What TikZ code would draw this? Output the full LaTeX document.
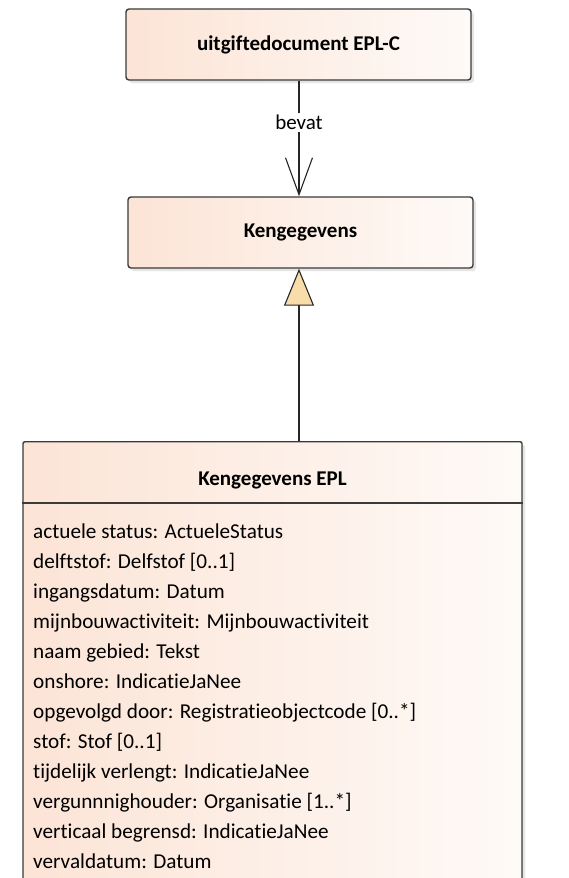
\documentclass[tikz,border=0pt]{standalone}
\usepackage{fontspec}
\setmainfont[Ligatures={NoCommon}]{Carlito}
\usetikzlibrary{arrows.meta,shadows}
\definecolor{boxL}{HTML}{FCE4D6}
\definecolor{boxR}{HTML}{FEFAF7}
\definecolor{edge}{HTML}{3A3A3A}
\definecolor{tri}{HTML}{F8DCAA}
\tikzset{
  umlbox/.style={draw=edge, line width=1.4pt, rounded corners=3pt,
    left color=boxL, right color=boxR, shading angle=90,
    drop shadow={shadow xshift=3pt, shadow yshift=-3pt, fill=black!10, opacity=1},
    minimum width=345pt, minimum height=71pt, inner sep=0pt,
    font=\fontsize{21}{24}\selectfont\bfseries},
  attr/.style={anchor=base west, inner sep=0pt, font=\fontsize{21.2}{24}\selectfont},
  conn/.style={line width=1.1pt, draw=black!85},
}
\begin{document}
\begin{tikzpicture}[x=1pt,y=-1pt]
\useasboundingbox (0,0) rectangle (569,878);
\clip (0,0) rectangle (569,878);
\fill[white] (0,0) rectangle (569,878);
\node[umlbox] (doc) at (298.5,44.5) {uitgiftedocument EPL-C};
\node[umlbox] (kg) at (300.5,232.5) {Kengegevens};
\node[umlbox, rounded corners=2pt, minimum width=499pt, minimum height=460pt, anchor=north] (epl) at (272.5,441) {};
\node[font=\fontsize{21}{24}\selectfont\bfseries, inner sep=0pt] (eplname) at (272.5,480) {Kengegevens EPL};
\draw[draw=edge, line width=1.4pt] ([yshift=-62pt]epl.north west) -- ([yshift=-62pt]epl.north east);
\node[attr] (a1) at (33,538) {actuele status: ActueleStatus};
\node[attr] (a2) at (33,568) {delftstof: Delfstof [0..1]};
\node[attr] (a3) at (33,598) {ingangsdatum: Datum};
\node[attr] (a4) at (33,628) {mijnbouwactiviteit: Mijnbouwactiviteit};
\node[attr] (a5) at (33,658) {naam gebied: Tekst};
\node[attr] (a6) at (33,688) {onshore: IndicatieJaNee};
\node[attr] (a7) at (33,718) {opgevolgd door: Registratieobjectcode [0..*]};
\node[attr] (a8) at (33,748) {stof: Stof [0..1]};
\node[attr] (a9) at (33,778) {tijdelijk verlengt: IndicatieJaNee};
\node[attr] (a10) at (33,808) {vergunnnighouder: Organisatie [1..*]};
\node[attr] (a11) at (33,838) {verticaal begrensd: IndicatieJaNee};
\node[attr] (a12) at (33,868) {vervaldatum: Datum};
\draw[conn, -{Straight Barb[length=37pt,width=27pt,line width=1.1pt]}] (doc.south -| 299,0) -- (kg.north -| 299,0)
  node[pos=0.36, fill=white, inner sep=2pt, font=\fontsize{21}{24}\selectfont] (lbl) {bevat};
\draw[conn, -{Triangle[length=37pt,width=30pt,fill=tri,line width=1.1pt]}] (epl.north -| 299,0) -- (kg.south -| 299,0);
\end{tikzpicture}
\end{document}
